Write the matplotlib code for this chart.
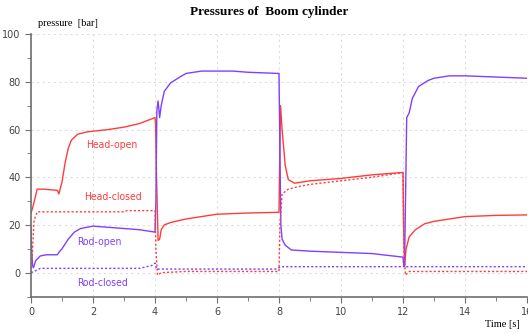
import numpy as np
import matplotlib
matplotlib.use("Agg")
import matplotlib.pyplot as plt
from matplotlib.ticker import MultipleLocator

# Data
t_head_open = [0, 0.05, 0.2, 0.4, 0.85, 0.9, 1.0, 1.1, 1.2, 1.3, 1.5, 1.8, 2.5, 3.0, 3.5, 4.0,
               4.02, 4.05, 4.1, 4.15, 4.2, 4.3, 4.5, 5.0, 6.0, 7.0, 8.0,
               8.02, 8.05, 8.1, 8.2, 8.3, 8.5, 9, 10, 11, 12,
               12.02, 12.05, 12.1, 12.2, 12.4, 12.7, 13, 13.5, 14, 15, 16]
p_head_open = [25, 27, 35, 35, 34.5, 33, 38, 46, 52, 55.5, 58, 59, 60, 61, 62.5, 65,
               62, 40, 13.5, 14, 18, 20, 21, 22.5, 24.5, 25, 25.3,
               45, 70, 60, 45, 39, 37.5, 38.5, 39.5, 41, 42,
               20, 3, 10, 15, 18, 20.5, 21.5, 22.5, 23.5, 24, 24.2]

t_rod_open = [0, 0.02, 0.05, 0.08, 0.15, 0.3, 0.5, 0.85, 0.9, 1.0, 1.2, 1.4, 1.6, 2.0, 3.0, 3.5, 4.0,
              4.03, 4.06, 4.1, 4.15, 4.2, 4.3, 4.5, 4.8, 5.0, 5.5, 6.5, 7.0, 8.0,
              8.03, 8.06, 8.1, 8.2, 8.4, 9, 10, 11, 12,
              12.02, 12.05, 12.08, 12.12, 12.2, 12.3, 12.5, 12.8, 13, 13.5, 14, 15, 16]
p_rod_open = [19, 10, 3, 2, 5, 7, 7.5, 7.5, 8.5, 10, 14, 17, 18.5, 19.5, 18.5, 18, 17,
              30, 68, 72, 65, 70, 76, 79.5, 82, 83.5, 84.5, 84.5, 84, 83.5,
              50, 20, 14, 11.5, 9.5, 9, 8.5, 8, 6.5,
              3.5, 2.5, 30, 65, 67, 73, 78, 80.5, 81.5, 82.5, 82.5, 82, 81.5]

t_head_closed = [0, 0.05, 0.1, 0.2, 0.5, 3.0, 3.1, 4.0, 4.03, 4.08, 4.2, 5, 8.0,
                 8.03, 8.1, 8.3, 8.6, 9, 10, 11, 12, 12.03, 12.08, 12.2, 14, 16]
p_head_closed = [0, 10, 22, 25.5, 25.5, 25.5, 26, 26, 10, -1, 0, 0.5, 0.5,
                 20, 33, 35, 36, 37, 38.5, 40, 42, 10, -1, 0.5, 0.5, 0.5]

t_rod_closed = [0, 0.1, 0.3, 1, 3.5, 3.9, 4.0, 4.05, 4.1, 5, 7.5, 7.9,
                8.05, 8.2, 10, 12, 12.05, 12.1, 12.2, 14, 16]
p_rod_closed = [0, 0.5, 1.8, 1.8, 1.8, 3, 4, 1.5, 1.5, 1.5, 1.5, 1.5,
                2.5, 2.5, 2.5, 2.5, 3, 2.5, 2.5, 2.5, 2.5]

red = '#ff3c3c'
blue = '#7f40ff'

fig = plt.figure(figsize=(5.28, 3.33), dpi=100)
ax = fig.add_axes([0.0587, 0.1096, 0.9394, 0.788])

ax.plot(t_head_open, p_head_open, color=red, linewidth=1)
ax.plot(t_rod_open, p_rod_open, color=blue, linewidth=1)
ax.plot(t_head_closed, p_head_closed, color=red, linewidth=1, linestyle=(0, (1.5, 1.5)))
ax.plot(t_rod_closed, p_rod_closed, color=blue, linewidth=1, linestyle=(0, (1.5, 1.5)))

lab = dict(fontsize=7.5, family='DejaVu Sans', stretch='condensed', ha='center', va='center')
ax.text(2.6, 53.5, 'Head-open', color=red, **lab)
ax.text(2.65, 31.7, 'Head-closed', color=red, **lab)
ax.text(2.2, 12.9, 'Rod-open', color=blue, **lab)
ax.text(2.3, -4.3, 'Rod-closed', color=blue, **lab)

ax.set_xlim(0, 16)
ax.set_ylim(-10, 100)
ax.xaxis.set_major_locator(MultipleLocator(2))
ax.xaxis.set_minor_locator(MultipleLocator(1))
ax.yaxis.set_major_locator(MultipleLocator(20))
ax.yaxis.set_minor_locator(MultipleLocator(10))
ax.grid(which='major', color='#dddddd', linestyle=(0, (2, 3)), linewidth=0.8)

for s in ['top', 'right']:
    ax.spines[s].set_visible(False)
for s in ['left', 'bottom']:
    ax.spines[s].set_color('#707070')
    ax.spines[s].set_linewidth(1.2)
ax.tick_params(which='both', direction='out', color='#707070', labelcolor='#444444', labelsize=7)
ax.tick_params(which='major', length=4)
ax.tick_params(which='minor', length=3)

fig.text(0.51, 0.963, 'Pressures of  Boom cylinder', family='Liberation Serif', weight='bold',
         fontsize=9.5, ha='center', va='center')
fig.text(0.072, 0.93, 'pressure  [bar]', family='Liberation Serif', fontsize=7.5, ha='left', va='center')
fig.text(0.985, 0.025, 'Time [s]', family='Liberation Serif', fontsize=7.5, ha='right', va='center')

fig.savefig('out.png', dpi=100)
